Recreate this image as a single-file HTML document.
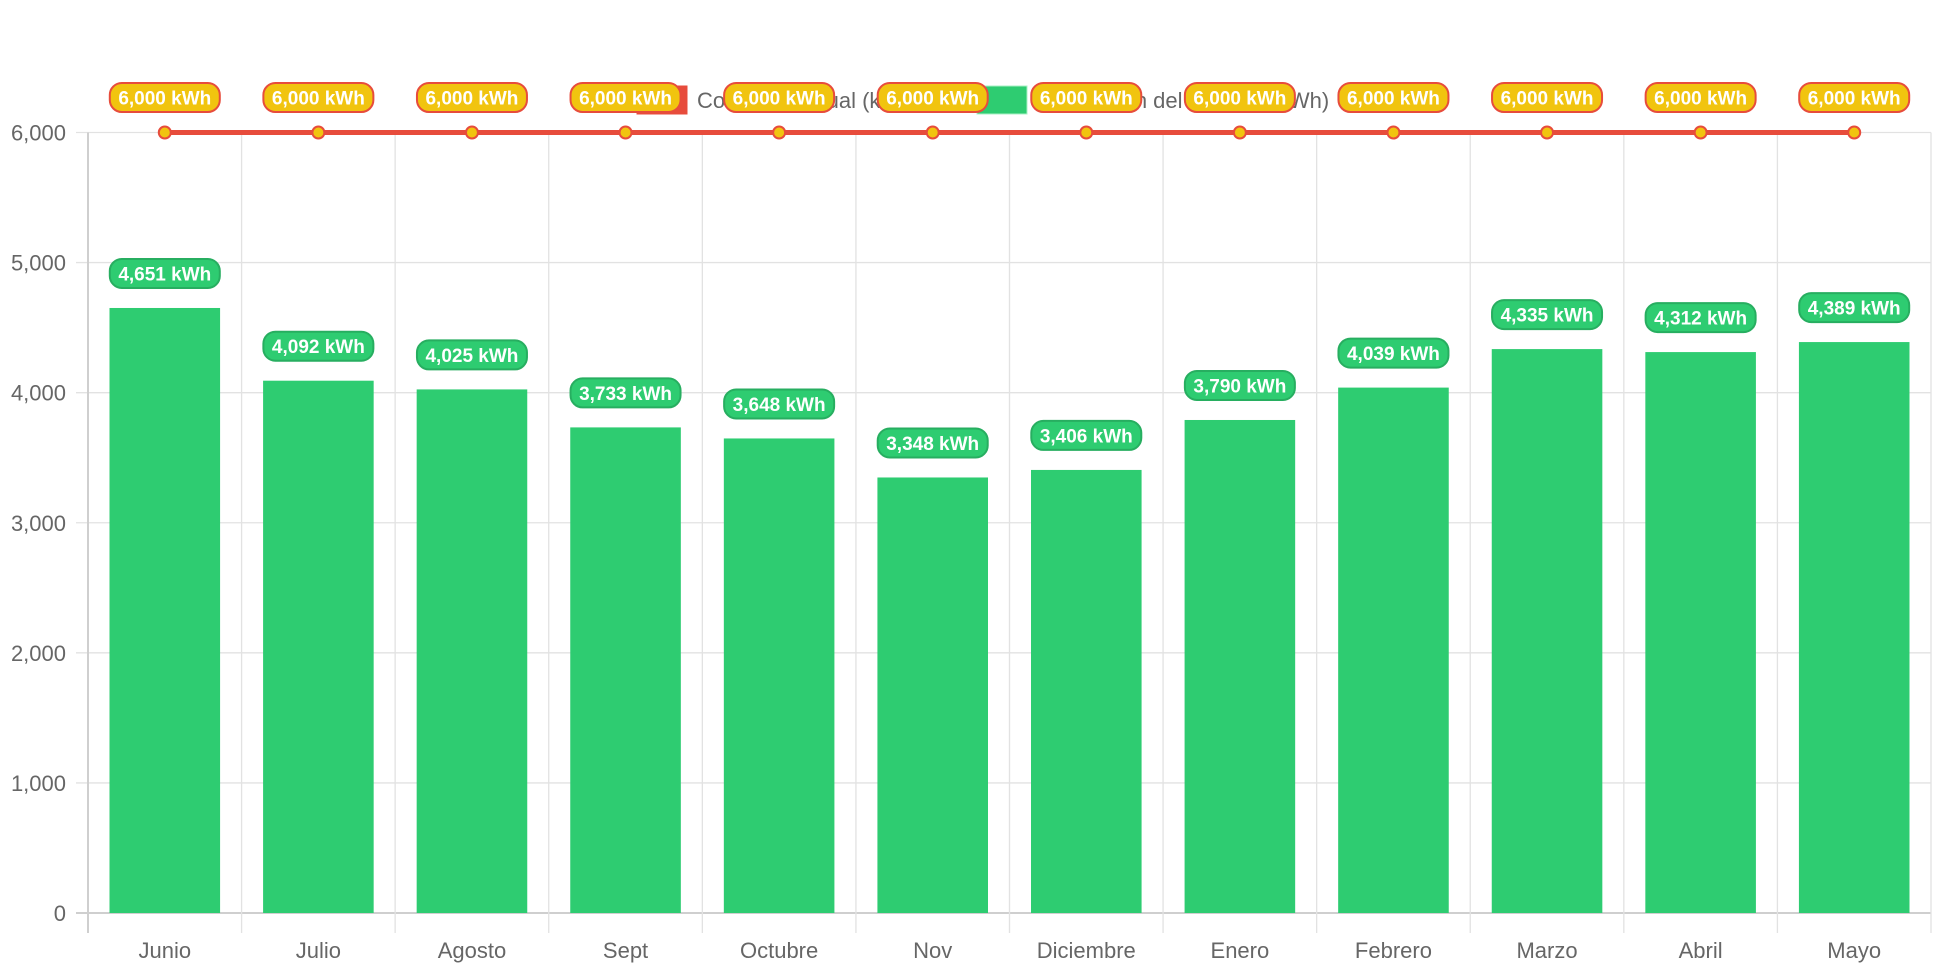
<!DOCTYPE html>
<html><head><meta charset="utf-8"><style>
html,body{margin:0;padding:0;background:#fff;}
svg{display:block;font-family:"Liberation Sans",Arial,sans-serif;}
</style></head><body>
<svg id="chart" width="1942" height="970"></svg>
<script>
const categories=["Junio","Julio","Agosto","Sept","Octubre","Nov","Diciembre","Enero","Febrero","Marzo","Abril","Mayo"];
const production=[4651,4092,4025,3733,3648,3348,3406,3790,4039,4335,4312,4389];
const consumption=[6000,6000,6000,6000,6000,6000,6000,6000,6000,6000,6000,6000];
const yTicks=[0,1000,2000,3000,4000,5000,6000];
const legendLabels=["Consumo actual (kWh)","Producción del sistema (kWh)"];

const NS="http://www.w3.org/2000/svg";
const svg=document.getElementById('chart');
const L=88,R=1931,T=132.5,B=913,YMAX=6000;
const bw=(R-L)/categories.length;
const y=v=>B-v/YMAX*(B-T);
const xc=i=>L+bw*(i+0.5);
function mk(tag,attrs,parent){const e=document.createElementNS(NS,tag);for(const k in attrs)e.setAttribute(k,attrs[k]);(parent||svg).appendChild(e);return e;}
const fmt=v=>v.toLocaleString('en-US');

// grid
const grid=mk('g',{});


yTicks.forEach(t=>{
  mk('line',{x1:76,x2:R,y1:y(t),y2:y(t),stroke:t===0?'#cfcfcf':'#e2e2e2','stroke-width':t===0?2:1.3},grid);
  const tx=mk('text',{x:66,y:y(t)+8,'text-anchor':'end','font-size':22,fill:'#666'});
  tx.textContent=fmt(t);
  
  
});
for(let i=0;i<=categories.length;i++){
  mk('line',{x1:L+bw*i,x2:L+bw*i,y1:T,y2:933,stroke:i===0?'#cfcfcf':'#e2e2e2','stroke-width':i===0?2:1.3},grid);
}
categories.forEach((c,i)=>{
  const tx=mk('text',{x:xc(i),y:958,'text-anchor':'middle','font-size':22,fill:'#666'});
  tx.textContent=c;
  
  
});

// bars
const barW=bw*0.72;
production.forEach((v,i)=>{
  const r=mk('rect',{x:xc(i)-barW/2,y:y(v),width:barW,height:B-y(v),fill:'#2ecc71'});
  
  
});

// legend
const lg=mk('g',{});


mk('rect',{x:637,y:86,width:50,height:28,fill:'#e74c3c',stroke:'#e74c3c'},lg);
let t1=mk('text',{x:697,y:108,'font-size':22,fill:'#666'},lg);t1.textContent=legendLabels[0];


mk('rect',{x:977,y:86,width:50,height:28,fill:'#2ecc71',stroke:'#a8f0c4'},lg);
let t2=mk('text',{x:1037,y:108,'font-size':22,fill:'#666'},lg);t2.textContent=legendLabels[1];



// line
const pts=consumption.map((v,i)=>xc(i)+','+y(v)).join(' ');
const pl=mk('polyline',{points:pts,fill:'none',stroke:'#e74c3c','stroke-width':5});


consumption.forEach((v,i)=>{
  const c=mk('circle',{cx:xc(i),cy:y(v),r:6,fill:'#f1c40f',stroke:'#e74c3c','stroke-width':2});
  
  
});

// value labels
function pill(cx,cy,text,fill,stroke){
  const g=mk('g',{});
  
  
  mk('rect',{x:cx-55,y:cy-14.5,width:110,height:29,rx:12,fill:fill,stroke:stroke,'stroke-width':2},g);
  const tx=mk('text',{x:cx,y:cy+7,'text-anchor':'middle','font-size':19,'font-weight':'bold',fill:'#fff'},g);
  tx.textContent=text;
}
production.forEach((v,i)=>pill(xc(i),y(v)-34.5,fmt(v)+' kWh','#2ecc71','#27ae60'));
consumption.forEach((v,i)=>pill(xc(i),y(v)-35,fmt(v)+' kWh','#f1c40f','#e74c3c'));
</script>
</body></html>
